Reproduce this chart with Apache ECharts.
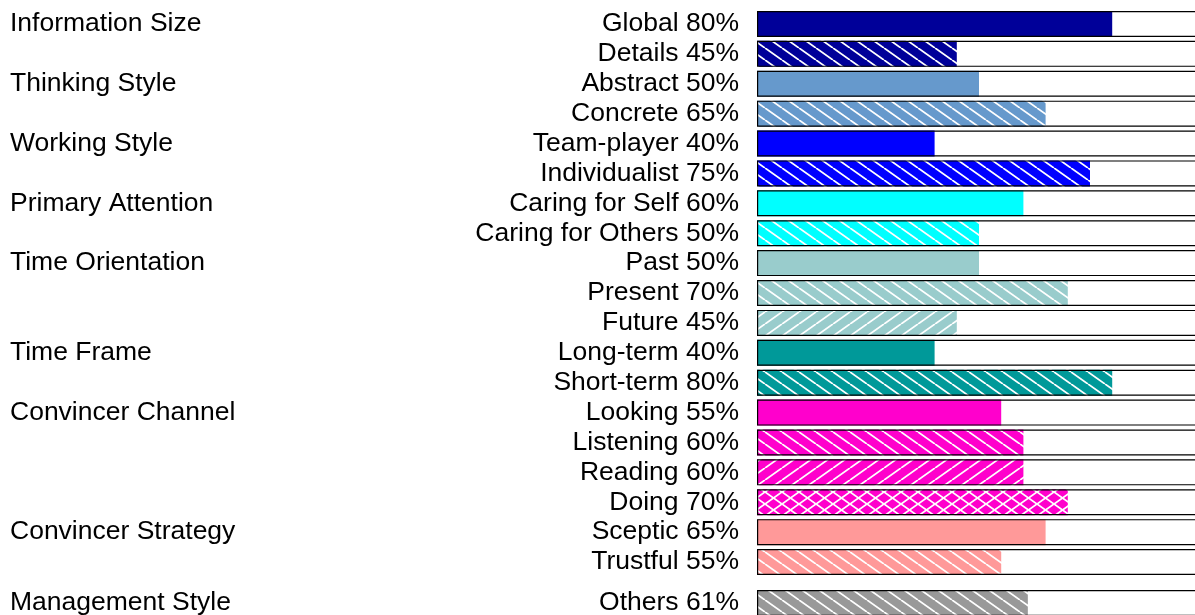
<!DOCTYPE html>
<html>
<head>
<meta charset="utf-8">
<script src="https://cdn.jsdelivr.net/npm/echarts@6/dist/echarts.min.js"></script>
<style>
html,body{margin:0;padding:0;background:#fff;}
#chart{width:1195px;height:615px;}
</style>
</head>
<body>
<div id="chart"></div>
<script>
// ---- data ----
const groupNames = ['Information Size','Thinking Style','Working Style','Primary Attention','Time Orientation','Time Frame','Convincer Channel','Convincer Strategy','Management Style'];
const groupSizes = [2,2,2,2,3,2,4,2,1];
const rowLabels = ['Global','Details','Abstract','Concrete','Team-player','Individualist','Caring for Self','Caring for Others','Past','Present','Future','Long-term','Short-term','Looking','Listening','Reading','Doing','Sceptic','Trustful','Others'];
const rowValues = [80,45,50,65,40,75,60,50,50,70,45,40,80,55,60,60,70,65,55,61];
const scaleMax = 100;

// ---- styles ----
const groupColors = ['#000099','#6699CC','#0000FF','#00FFFF','#99CCCC','#009999','#FF00CC','#FF9999','#999999'];
const rowHatch = ['solid','back','solid','back','solid','back','solid','back','solid','back','fwd','solid','back','solid','back','fwd','cross','solid','back','back'];
const FONT = 'Liberation Sans, Arial, sans-serif';
const FS = 26.5;

function makeFill(color, hatch){
  if(hatch === 'solid') return color;
  const W = 17, H = 12;
  const c = document.createElement('canvas');
  c.width = W; c.height = H;
  const g = c.getContext('2d');
  g.fillStyle = color; g.fillRect(0,0,W,H);
  g.strokeStyle = '#fff'; g.lineWidth = 1.8;
  const seg = (x1,y1,x2,y2)=>{ g.beginPath(); g.moveTo(x1,y1); g.lineTo(x2,y2); g.stroke(); };
  for(const dx of [-W,0,W]){
    if(hatch === 'back' || hatch === 'cross') seg(dx,0,dx+W,H);
    if(hatch === 'fwd' || hatch === 'cross') seg(dx,H,dx+W,0);
  }
  return {image:c, repeat:'repeat'};
}

// build per-row info
const rowGroup = [], rowFirst = [];
groupSizes.forEach((n,gi)=>{ for(let k=0;k<n;k++){ rowGroup.push(gi); rowFirst.push(k===0); } });
const rowText = rowLabels.map((l,i)=> l + ' ' + rowValues[i] + '%');
const groupText = rowLabels.map((l,i)=> rowFirst[i] ? groupNames[rowGroup[i]] : '');

const mainCount = 19;
const parts = [[0,mainCount],[mainCount,rowLabels.length]];

const grids = [
  {left:757, right:-6, top:9, height:568, containLabel:false, outerBoundsMode:'none'},
  {left:757, right:-6, top:588, height:30, containLabel:false, outerBoundsMode:'none'}
];
const xAxes = [], yAxes = [], series = [];
parts.forEach(([a,b],gi)=>{
  xAxes.push({type:'value', gridIndex:gi, min:0, max:scaleMax, show:false});
  yAxes.push({type:'category', gridIndex:gi, position:'left', offset:0, inverse:true, data:rowText.slice(a,b),
    axisLine:{show:false}, axisTick:{show:false}, splitLine:{show:false},
    axisLabel:{interval:0, hideOverlap:false, margin:18, fontFamily:FONT, fontSize:FS, color:'#000', align:'right'}});
  yAxes.push({type:'category', gridIndex:gi, position:'left', offset:0, inverse:true, data:groupText.slice(a,b),
    axisLine:{show:false}, axisTick:{show:false}, splitLine:{show:false},
    axisLabel:{interval:0, hideOverlap:false, margin:747, fontFamily:FONT, fontSize:FS, color:'#000', align:'left'}});
  const idx = [];
  for(let i=a;i<b;i++) idx.push(i);
  series.push({type:'bar', xAxisIndex:gi, yAxisIndex:gi*2, barWidth:26, silent:true, z:2,
    data: idx.map(i=>({value:rowValues[i], itemStyle:{color:makeFill(groupColors[rowGroup[i]], rowHatch[i])}}))});
  series.push({type:'bar', xAxisIndex:gi, yAxisIndex:gi*2, barWidth:26, barGap:'-100%', silent:true, z:3,
    data: idx.map(()=>scaleMax),
    itemStyle:{color:'rgba(0,0,0,0)', borderColor:'#000', borderWidth:1.2}});
});

const chart = echarts.init(document.getElementById('chart'), null, {renderer:'canvas'});
chart.setOption({
  animation:false,
  backgroundColor:'#fff',
  grid:grids, xAxis:xAxes, yAxis:yAxes, series:series
});
</script>
</body>
</html>
